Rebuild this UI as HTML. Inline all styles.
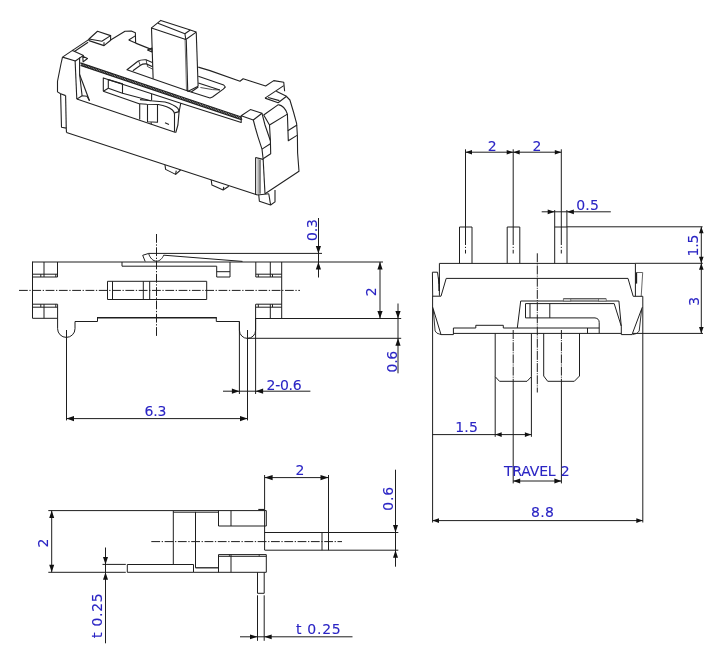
<!DOCTYPE html>
<html><head><meta charset="utf-8"><title>Slide switch drawing</title>
<style>
html,body{margin:0;padding:0;background:#fff;}
svg{display:block;}
text{font-family:"DejaVu Sans","Liberation Sans",sans-serif;}
</style></head><body>
<svg width="721" height="672" viewBox="0 0 721 672">
<rect width="721" height="672" fill="#ffffff"/>
<g opacity="0.999">
<line x1="32.5" y1="262" x2="383" y2="262" stroke="#1e1e1e" stroke-width="1.0"/>
<line x1="32.5" y1="261.5" x2="32.5" y2="318.3" stroke="#1e1e1e" stroke-width="1.0"/>
<line x1="57.5" y1="262" x2="57.5" y2="277" stroke="#1e1e1e" stroke-width="1.0"/>
<line x1="32.5" y1="277" x2="57.5" y2="277" stroke="#1e1e1e" stroke-width="1.0"/>
<line x1="32.5" y1="274.2" x2="57.5" y2="274.2" stroke="#1e1e1e" stroke-width="1.0"/>
<line x1="44" y1="262" x2="44" y2="277" stroke="#1e1e1e" stroke-width="1.0"/>
<line x1="40.8" y1="274.2" x2="40.8" y2="277" stroke="#1e1e1e" stroke-width="1.0"/>
<line x1="55.8" y1="274.2" x2="55.8" y2="277" stroke="#1e1e1e" stroke-width="1.0"/>
<line x1="32.5" y1="304.2" x2="57.5" y2="304.2" stroke="#1e1e1e" stroke-width="1.0"/>
<line x1="32.5" y1="307.2" x2="57.5" y2="307.2" stroke="#1e1e1e" stroke-width="1.0"/>
<line x1="32.5" y1="318.3" x2="57.5" y2="318.3" stroke="#1e1e1e" stroke-width="1.0"/>
<line x1="44" y1="304.2" x2="44" y2="318.3" stroke="#1e1e1e" stroke-width="1.0"/>
<line x1="40.8" y1="304.2" x2="40.8" y2="307.2" stroke="#1e1e1e" stroke-width="1.0"/>
<line x1="55.8" y1="304.2" x2="55.8" y2="307.2" stroke="#1e1e1e" stroke-width="1.0"/>
<path d="M57.6,304.2 L57.6,328.7 A8.7,8.7 0 0 0 75,328.7 L75,321.5 L97.5,321.5 L97.5,317.6" fill="none" stroke="#1e1e1e" stroke-width="1.0"/>
<line x1="97" y1="317.7" x2="216.8" y2="317.7" stroke="#1e1e1e" stroke-width="1.4"/>
<path d="M216.3,317.5 L216.3,321.5 L239.4,321.5 L239.4,330.3 A8,8 0 0 0 255.6,330.3 L255.6,304.2" fill="none" stroke="#1e1e1e" stroke-width="1.0"/>
<line x1="239.4" y1="321.5" x2="239.4" y2="394" stroke="#1e1e1e" stroke-width="1.0"/>
<line x1="255.6" y1="318" x2="255.6" y2="394" stroke="#1e1e1e" stroke-width="1.0"/>
<line x1="255.8" y1="262" x2="255.8" y2="277" stroke="#1e1e1e" stroke-width="1.0"/>
<line x1="255.8" y1="277" x2="281.7" y2="277" stroke="#1e1e1e" stroke-width="1.0"/>
<line x1="255.8" y1="274.2" x2="281.7" y2="274.2" stroke="#1e1e1e" stroke-width="1.0"/>
<line x1="270.3" y1="262" x2="270.3" y2="277" stroke="#1e1e1e" stroke-width="1.0"/>
<line x1="258.3" y1="274.2" x2="258.3" y2="277" stroke="#1e1e1e" stroke-width="1.0"/>
<line x1="272.5" y1="274.2" x2="272.5" y2="277" stroke="#1e1e1e" stroke-width="1.0"/>
<line x1="281.7" y1="262" x2="281.7" y2="318.3" stroke="#1e1e1e" stroke-width="1.0"/>
<line x1="255.8" y1="304.2" x2="281.7" y2="304.2" stroke="#1e1e1e" stroke-width="1.0"/>
<line x1="255.8" y1="307.2" x2="281.7" y2="307.2" stroke="#1e1e1e" stroke-width="1.0"/>
<line x1="270.3" y1="304.2" x2="270.3" y2="318.3" stroke="#1e1e1e" stroke-width="1.0"/>
<line x1="258.3" y1="304.2" x2="258.3" y2="307.2" stroke="#1e1e1e" stroke-width="1.0"/>
<line x1="272.5" y1="304.2" x2="272.5" y2="307.2" stroke="#1e1e1e" stroke-width="1.0"/>
<line x1="255.8" y1="318.5" x2="401.2" y2="318.5" stroke="#1e1e1e" stroke-width="1.0"/>
<polyline points="122,262 122,266.2 216.7,266.2 216.7,277 230,277 230,262" fill="none" stroke="#1e1e1e" stroke-width="1.0" stroke-linejoin="round"/>
<line x1="216.7" y1="271.7" x2="230" y2="271.7" stroke="#1e1e1e" stroke-width="1.0"/>
<polygon points="107.5,281.3 206.7,281.3 206.7,299.5 107.5,299.5" fill="none" stroke="#1e1e1e" stroke-width="1.0" stroke-linejoin="round"/>
<line x1="112.5" y1="281.3" x2="112.5" y2="299.5" stroke="#1e1e1e" stroke-width="1.0"/>
<line x1="143.3" y1="281.3" x2="143.3" y2="299.5" stroke="#1e1e1e" stroke-width="1.0"/>
<line x1="149.7" y1="281.3" x2="149.7" y2="299.5" stroke="#1e1e1e" stroke-width="1.0"/>
<line x1="19" y1="290.4" x2="300" y2="290.4" stroke="#1e1e1e" stroke-width="1.0" stroke-dasharray="8.8 1.6 1.3 1.6"/>
<line x1="156.5" y1="234" x2="156.5" y2="337.5" stroke="#1e1e1e" stroke-width="1.0" stroke-dasharray="8.8 1.6 1.3 1.6"/>
<line x1="148.4" y1="253.4" x2="322" y2="253.4" stroke="#1e1e1e" stroke-width="1.0"/>
<polyline points="148.4,253.5 142.7,255.3 145.2,261.5" fill="none" stroke="#1e1e1e" stroke-width="1.0" stroke-linejoin="round"/>
<path d="M148.6,253.5 C150,258 153,261.2 156.5,261.2 C159.6,261.2 162.3,258.6 163.7,255.2" fill="none" stroke="#1e1e1e" stroke-width="1.0"/>
<line x1="163.7" y1="255.2" x2="242.5" y2="261.4" stroke="#1e1e1e" stroke-width="1.0"/>
<line x1="318.5" y1="218" x2="318.5" y2="277.5" stroke="#1e1e1e" stroke-width="1.0"/>
<polygon points="318.4,253.5 315.79999999999995,246.0 321.0,246.0" fill="#111" stroke="none"/>
<polygon points="318.4,262 315.79999999999995,269.5 321.0,269.5" fill="#111" stroke="none"/>
<text x="317.2" y="241" font-size="14" fill="#2a24c4" stroke="#2a24c4" stroke-width="0.12" text-anchor="start" textLength="21.9" lengthAdjust="spacing" transform="rotate(-90 317.2 241)" xml:space="preserve">0.3</text>
<line x1="380" y1="262" x2="380" y2="318.5" stroke="#1e1e1e" stroke-width="1.0"/>
<polygon points="380,262 377.4,269.5 382.6,269.5" fill="#111" stroke="none"/>
<polygon points="380,318.5 377.4,311.0 382.6,311.0" fill="#111" stroke="none"/>
<text x="375.8" y="296.3" font-size="14" fill="#2a24c4" stroke="#2a24c4" stroke-width="0.12" text-anchor="start" transform="rotate(-90 375.8 296.3)" xml:space="preserve">2</text>
<line x1="398" y1="303.5" x2="398" y2="373.3" stroke="#1e1e1e" stroke-width="1.0"/>
<polygon points="398,318.5 395.4,311.0 400.6,311.0" fill="#111" stroke="none"/>
<polygon points="398,338.3 395.4,345.8 400.6,345.8" fill="#111" stroke="none"/>
<line x1="247.5" y1="338.3" x2="401.2" y2="338.3" stroke="#1e1e1e" stroke-width="1.0"/>
<text x="396.6" y="372.5" font-size="14" fill="#2a24c4" stroke="#2a24c4" stroke-width="0.12" text-anchor="start" textLength="21.8" lengthAdjust="spacing" transform="rotate(-90 396.6 372.5)" xml:space="preserve">0.6</text>
<line x1="223" y1="391.2" x2="310.4" y2="391.2" stroke="#1e1e1e" stroke-width="1.0"/>
<polygon points="239.4,391.2 231.9,388.59999999999997 231.9,393.8" fill="#111" stroke="none"/>
<polygon points="255.6,391.2 263.1,388.59999999999997 263.1,393.8" fill="#111" stroke="none"/>
<text x="266.6" y="389.9" font-size="14" fill="#2a24c4" stroke="#2a24c4" stroke-width="0.12" text-anchor="start" textLength="35.1" lengthAdjust="spacing" xml:space="preserve">2-0.6</text>
<line x1="66.5" y1="330" x2="66.5" y2="420.4" stroke="#1e1e1e" stroke-width="1.0"/>
<line x1="247.5" y1="330" x2="247.5" y2="420.4" stroke="#1e1e1e" stroke-width="1.0"/>
<line x1="66.5" y1="418.6" x2="247.5" y2="418.6" stroke="#1e1e1e" stroke-width="1.0"/>
<polygon points="66.5,418.6 74.0,416.0 74.0,421.20000000000005" fill="#111" stroke="none"/>
<polygon points="247.5,418.6 240.0,416.0 240.0,421.20000000000005" fill="#111" stroke="none"/>
<text x="144.5" y="416" font-size="14" fill="#2a24c4" stroke="#2a24c4" stroke-width="0.12" text-anchor="start" textLength="21.9" lengthAdjust="spacing" xml:space="preserve">6.3</text>
<polyline points="459.5,263.3 459.5,227 472,227 472,263.3" fill="none" stroke="#1e1e1e" stroke-width="1.0" stroke-linejoin="round"/>
<line x1="465.5" y1="149.3" x2="465.5" y2="245" stroke="#1e1e1e" stroke-width="1.0"/>
<line x1="465.5" y1="246.8" x2="465.5" y2="248" stroke="#1e1e1e" stroke-width="1.0"/>
<line x1="465.5" y1="249.8" x2="465.5" y2="253.5" stroke="#1e1e1e" stroke-width="1.0"/>
<polyline points="507.2,263.3 507.2,227 519.8,227 519.8,263.3" fill="none" stroke="#1e1e1e" stroke-width="1.0" stroke-linejoin="round"/>
<line x1="513.2" y1="149.3" x2="513.2" y2="245" stroke="#1e1e1e" stroke-width="1.0"/>
<line x1="513.2" y1="246.8" x2="513.2" y2="248" stroke="#1e1e1e" stroke-width="1.0"/>
<line x1="513.2" y1="249.8" x2="513.2" y2="253.5" stroke="#1e1e1e" stroke-width="1.0"/>
<polyline points="554.7,263.3 554.7,227 567,227 567,263.3" fill="none" stroke="#1e1e1e" stroke-width="1.0" stroke-linejoin="round"/>
<line x1="561.3" y1="149.3" x2="561.3" y2="245" stroke="#1e1e1e" stroke-width="1.0"/>
<line x1="561.3" y1="246.8" x2="561.3" y2="248" stroke="#1e1e1e" stroke-width="1.0"/>
<line x1="561.3" y1="249.8" x2="561.3" y2="253.5" stroke="#1e1e1e" stroke-width="1.0"/>
<line x1="465.5" y1="152.2" x2="561.3" y2="152.2" stroke="#1e1e1e" stroke-width="1.0"/>
<polygon points="465.5,152.2 472.0,149.89999999999998 472.0,154.5" fill="#111" stroke="none"/>
<polygon points="513.2,152.2 506.70000000000005,149.89999999999998 506.70000000000005,154.5" fill="#111" stroke="none"/>
<polygon points="513.2,152.2 519.7,149.89999999999998 519.7,154.5" fill="#111" stroke="none"/>
<polygon points="561.3,152.2 554.8,149.89999999999998 554.8,154.5" fill="#111" stroke="none"/>
<text x="487.8" y="151" font-size="14" fill="#2a24c4" stroke="#2a24c4" stroke-width="0.12" text-anchor="start" xml:space="preserve">2</text>
<text x="532.6" y="151.2" font-size="14" fill="#2a24c4" stroke="#2a24c4" stroke-width="0.12" text-anchor="start" xml:space="preserve">2</text>
<line x1="541.7" y1="211.8" x2="610.8" y2="211.8" stroke="#1e1e1e" stroke-width="1.0"/>
<line x1="554.7" y1="210" x2="554.7" y2="227" stroke="#1e1e1e" stroke-width="1.0"/>
<line x1="566.9" y1="210" x2="566.9" y2="227" stroke="#1e1e1e" stroke-width="1.0"/>
<polygon points="554.7,211.8 547.7,209.4 547.7,214.20000000000002" fill="#111" stroke="none"/>
<polygon points="566.9,211.8 573.9,209.4 573.9,214.20000000000002" fill="#111" stroke="none"/>
<text x="576.2" y="209.7" font-size="14" fill="#2a24c4" stroke="#2a24c4" stroke-width="0.12" text-anchor="start" textLength="22.8" lengthAdjust="spacing" xml:space="preserve">0.5</text>
<line x1="567" y1="226.8" x2="702.6" y2="226.8" stroke="#1e1e1e" stroke-width="1.0"/>
<line x1="635.3" y1="263.3" x2="702.8" y2="263.3" stroke="#1e1e1e" stroke-width="1.0"/>
<line x1="633" y1="333.4" x2="703" y2="333.4" stroke="#1e1e1e" stroke-width="1.0"/>
<line x1="701.3" y1="226.8" x2="701.3" y2="333.4" stroke="#1e1e1e" stroke-width="1.0"/>
<polygon points="701.3,226.8 699.0,233.3 703.5999999999999,233.3" fill="#111" stroke="none"/>
<polygon points="701.3,263.3 699.0,256.8 703.5999999999999,256.8" fill="#111" stroke="none"/>
<polygon points="701.3,263.3 699.0,269.8 703.5999999999999,269.8" fill="#111" stroke="none"/>
<polygon points="701.3,333.4 699.0,326.9 703.5999999999999,326.9" fill="#111" stroke="none"/>
<text x="697.6" y="256.5" font-size="14" fill="#2a24c4" stroke="#2a24c4" stroke-width="0.12" text-anchor="start" textLength="21.9" lengthAdjust="spacing" transform="rotate(-90 697.6 256.5)" xml:space="preserve">1.5</text>
<text x="698.9" y="305.8" font-size="14" fill="#2a24c4" stroke="#2a24c4" stroke-width="0.12" text-anchor="start" transform="rotate(-90 698.9 305.8)" xml:space="preserve">3</text>
<polyline points="439.4,295.8 439.4,263.4 635.4,263.4 635.4,296.3" fill="none" stroke="#1e1e1e" stroke-width="1.0" stroke-linejoin="round"/>
<polyline points="437.5,272.2 432.4,272.2 432.7,296.2 441,296.2" fill="none" stroke="#1e1e1e" stroke-width="1.0" stroke-linejoin="round"/>
<line x1="437.5" y1="272.2" x2="439.1" y2="284" stroke="#1e1e1e" stroke-width="1.0"/>
<line x1="439.0" y1="277.5" x2="439.2" y2="291" stroke="#1e1e1e" stroke-width="1.6"/>
<polyline points="636.4,272.5 642.7,272.5 641.2,296.3" fill="none" stroke="#555" stroke-width="0.9" stroke-linejoin="round"/>
<line x1="633.2" y1="296.3" x2="642.8" y2="296.3" stroke="#1e1e1e" stroke-width="1.0"/>
<line x1="636.3" y1="272.5" x2="636.3" y2="283.6" stroke="#1e1e1e" stroke-width="1.7"/>
<polyline points="441,296.2 446.2,278.4 628,278.4 633.2,296.3" fill="none" stroke="#1e1e1e" stroke-width="1.0" stroke-linejoin="round"/>
<line x1="432.6" y1="296" x2="432.6" y2="522.5" stroke="#1e1e1e" stroke-width="1.0"/>
<line x1="642.8" y1="296.3" x2="642.8" y2="522.5" stroke="#1e1e1e" stroke-width="1.0"/>
<polyline points="432.7,307.2 441,334.6 453.4,334.6 453.4,328 475.8,328 475.8,325.3 503.3,325.3 503.3,328 599.2,328" fill="none" stroke="#1e1e1e" stroke-width="1.0" stroke-linejoin="round"/>
<polyline points="433.3,309.6 435.1,331 437,333.2 441,334.6" fill="none" stroke="#1e1e1e" stroke-width="0.9" stroke-linejoin="round"/>
<line x1="453.4" y1="333.4" x2="621.3" y2="333.4" stroke="#1e1e1e" stroke-width="1.0"/>
<polyline points="618.9,301 621.3,326.3 621.3,334.6 632,334.6 642.3,307.2" fill="none" stroke="#1e1e1e" stroke-width="1.0" stroke-linejoin="round"/>
<polyline points="641.6,309.6 639.2,331 636.8,333.4 632.5,334.6" fill="none" stroke="#1e1e1e" stroke-width="0.9" stroke-linejoin="round"/>
<polyline points="517.3,328 520.7,301 618.9,301" fill="none" stroke="#1e1e1e" stroke-width="1.0" stroke-linejoin="round"/>
<polyline points="525.5,303.6 614.2,303.6 621.3,326.3" fill="none" stroke="#1e1e1e" stroke-width="1.0" stroke-linejoin="round"/>
<polyline points="525.5,303.6 525.5,317.9 595,317.9" fill="none" stroke="#1e1e1e" stroke-width="1.0" stroke-linejoin="round"/>
<path d="M595,317.9 Q599.2,318.5 599.2,322.5 L599.2,333.4" fill="none" stroke="#1e1e1e" stroke-width="1.0"/>
<line x1="530" y1="303.6" x2="530" y2="317.9" stroke="#1e1e1e" stroke-width="1.0"/>
<line x1="549.8" y1="303.6" x2="549.8" y2="317.9" stroke="#1e1e1e" stroke-width="1.0"/>
<line x1="587.5" y1="328" x2="587.5" y2="333.4" stroke="#1e1e1e" stroke-width="1.0"/>
<line x1="563.6" y1="298.8" x2="606" y2="298.8" stroke="#1e1e1e" stroke-width="1.0"/>
<rect x="563.3" y="298.8" width="7.5" height="2.3" fill="#dcdcdc" stroke="#555" stroke-width="0.7"/>
<rect x="598.5" y="298.8" width="7.7" height="2.3" fill="#dcdcdc" stroke="#555" stroke-width="0.7"/>
<polyline points="495.2,333.4 495.2,376.7 499.5,381.3 527,381.3 531.4,376.7 531.4,333.4" fill="none" stroke="#1e1e1e" stroke-width="1.0" stroke-linejoin="round"/>
<polyline points="543.7,333.4 543.7,376 547.7,381.3 574.3,381.3 579.5,376 579.5,333.4" fill="none" stroke="#1e1e1e" stroke-width="1.0" stroke-linejoin="round"/>
<line x1="495.2" y1="376.7" x2="495.2" y2="436.8" stroke="#1e1e1e" stroke-width="1.0"/>
<line x1="531.4" y1="376.7" x2="531.4" y2="436.8" stroke="#1e1e1e" stroke-width="1.0"/>
<line x1="513.2" y1="330" x2="513.2" y2="386" stroke="#1e1e1e" stroke-width="1.0" stroke-dasharray="9 1.1 1 1.1"/>
<line x1="513.2" y1="386" x2="513.2" y2="483.4" stroke="#1e1e1e" stroke-width="1.0"/>
<line x1="561.4" y1="330" x2="561.4" y2="386" stroke="#1e1e1e" stroke-width="1.0" stroke-dasharray="9 1.1 1 1.1"/>
<line x1="561.4" y1="386" x2="561.4" y2="483.4" stroke="#1e1e1e" stroke-width="1.0"/>
<line x1="537.3" y1="253.3" x2="537.3" y2="392.5" stroke="#1e1e1e" stroke-width="1.0" stroke-dasharray="9 1.1 1 1.1"/>
<line x1="432.5" y1="434.6" x2="531.4" y2="434.6" stroke="#1e1e1e" stroke-width="1.0"/>
<polygon points="495.2,434.6 501.7,432.3 501.7,436.90000000000003" fill="#111" stroke="none"/>
<polygon points="531.4,434.6 524.9,432.3 524.9,436.90000000000003" fill="#111" stroke="none"/>
<text x="455.3" y="432" font-size="14" fill="#2a24c4" stroke="#2a24c4" stroke-width="0.12" text-anchor="start" textLength="22.5" lengthAdjust="spacing" xml:space="preserve">1.5</text>
<line x1="513.2" y1="481" x2="561.4" y2="481" stroke="#1e1e1e" stroke-width="1.0"/>
<polygon points="513.2,481 520.2,478.6 520.2,483.4" fill="#111" stroke="none"/>
<polygon points="561.4,481 554.4,478.6 554.4,483.4" fill="#111" stroke="none"/>
<text x="504" y="475.7" font-size="14" fill="#2a24c4" stroke="#2a24c4" stroke-width="0.12" xml:space="preserve"><tspan textLength="51.6" lengthAdjust="spacing">TRAVEL</tspan> <tspan x="560.7">2</tspan></text>
<line x1="432.5" y1="520.6" x2="642.8" y2="520.6" stroke="#1e1e1e" stroke-width="1.0"/>
<polygon points="432.5,520.6 439.0,518.3000000000001 439.0,522.9" fill="#111" stroke="none"/>
<polygon points="642.8,520.6 636.3,518.3000000000001 636.3,522.9" fill="#111" stroke="none"/>
<text x="531" y="516.6" font-size="14" fill="#2a24c4" stroke="#2a24c4" stroke-width="0.12" text-anchor="start" textLength="22.8" lengthAdjust="spacing" xml:space="preserve">8.8</text>
<line x1="48.3" y1="510.6" x2="266.3" y2="510.6" stroke="#1e1e1e" stroke-width="1.0"/>
<line x1="173.3" y1="512.2" x2="218.5" y2="512.2" stroke="#1e1e1e" stroke-width="1.0"/>
<line x1="173.3" y1="511" x2="173.3" y2="564.4" stroke="#1e1e1e" stroke-width="1.0"/>
<line x1="195.5" y1="511.9" x2="195.5" y2="567.8" stroke="#1e1e1e" stroke-width="1.0"/>
<line x1="195.5" y1="567.8" x2="218.5" y2="567.8" stroke="#1e1e1e" stroke-width="1.3"/>
<polygon points="127.3,564.5 193.5,564.5 193.5,572.3 127.3,572.3" fill="none" stroke="#1e1e1e" stroke-width="1.0" stroke-linejoin="round"/>
<line x1="48.3" y1="572.3" x2="125.8" y2="572.3" stroke="#1e1e1e" stroke-width="1.0"/>
<line x1="193.5" y1="572.3" x2="266.3" y2="572.3" stroke="#1e1e1e" stroke-width="1.0"/>
<line x1="102.5" y1="564.4" x2="125.8" y2="564.4" stroke="#1e1e1e" stroke-width="1.0"/>
<line x1="51.7" y1="510.6" x2="51.7" y2="572.2" stroke="#1e1e1e" stroke-width="1.0"/>
<polygon points="51.7,510.6 49.2,518.1 54.2,518.1" fill="#111" stroke="none"/>
<polygon points="51.7,572.2 49.2,564.7 54.2,564.7" fill="#111" stroke="none"/>
<text x="48.2" y="547.6" font-size="14" fill="#2a24c4" stroke="#2a24c4" stroke-width="0.12" text-anchor="start" transform="rotate(-90 48.2 547.6)" xml:space="preserve">2</text>
<line x1="105.5" y1="547.5" x2="105.5" y2="643.3" stroke="#1e1e1e" stroke-width="1.0"/>
<polygon points="105.5,564.4 103.0,556.9 108.0,556.9" fill="#111" stroke="none"/>
<polygon points="105.5,572.2 103.0,579.7 108.0,579.7" fill="#111" stroke="none"/>
<text x="102" y="638" font-size="14" fill="#2a24c4" stroke="#2a24c4" stroke-width="0.12" text-anchor="start" textLength="44.8" lengthAdjust="spacing" transform="rotate(-90 102 638)" xml:space="preserve">t 0.25</text>
<polyline points="218.5,510.6 218.5,526 266.3,526 266.3,510.6" fill="none" stroke="#1e1e1e" stroke-width="1.0" stroke-linejoin="round"/>
<line x1="231" y1="510.6" x2="231" y2="526" stroke="#1e1e1e" stroke-width="1.0"/>
<line x1="264.6" y1="475" x2="264.6" y2="550" stroke="#1e1e1e" stroke-width="1.0"/>
<line x1="258.3" y1="509.6" x2="264.2" y2="509.6" stroke="#1e1e1e" stroke-width="1.4"/>
<polyline points="218.5,572.3 218.5,554.6 266.3,554.6 266.3,572.3" fill="none" stroke="#1e1e1e" stroke-width="1.0" stroke-linejoin="round"/>
<line x1="218.5" y1="556.3" x2="266.3" y2="556.3" stroke="#1e1e1e" stroke-width="1.0"/>
<line x1="231" y1="554.6" x2="231" y2="572.3" stroke="#1e1e1e" stroke-width="1.0"/>
<line x1="229.4" y1="554.6" x2="229.4" y2="556.3" stroke="#1e1e1e" stroke-width="0.8"/>
<line x1="259.2" y1="554.6" x2="259.2" y2="556.3" stroke="#1e1e1e" stroke-width="0.8"/>
<line x1="264.6" y1="532.5" x2="398.3" y2="532.5" stroke="#1e1e1e" stroke-width="1.0"/>
<line x1="264.6" y1="550.2" x2="398.3" y2="550.2" stroke="#1e1e1e" stroke-width="1.0"/>
<line x1="322" y1="532.5" x2="322" y2="550.2" stroke="#1e1e1e" stroke-width="1.0"/>
<line x1="328.5" y1="475" x2="328.5" y2="550.2" stroke="#1e1e1e" stroke-width="1.0"/>
<line x1="151.3" y1="541.6" x2="342" y2="541.6" stroke="#1e1e1e" stroke-width="1.0" stroke-dasharray="8.8 1.6 1.3 1.6"/>
<line x1="264.6" y1="477.6" x2="328.5" y2="477.6" stroke="#1e1e1e" stroke-width="1.0"/>
<polygon points="264.6,477.6 272.6,475.0 272.6,480.20000000000005" fill="#111" stroke="none"/>
<polygon points="328.5,477.6 320.5,475.0 320.5,480.20000000000005" fill="#111" stroke="none"/>
<text x="295.5" y="475.3" font-size="14" fill="#2a24c4" stroke="#2a24c4" stroke-width="0.12" text-anchor="start" xml:space="preserve">2</text>
<line x1="395.5" y1="469.7" x2="395.5" y2="566.7" stroke="#1e1e1e" stroke-width="1.0"/>
<polygon points="395.5,532.5 393.0,525.0 398.0,525.0" fill="#111" stroke="none"/>
<polygon points="395.5,550.2 393.0,557.7 398.0,557.7" fill="#111" stroke="none"/>
<text x="393.2" y="510.8" font-size="14" fill="#2a24c4" stroke="#2a24c4" stroke-width="0.12" text-anchor="start" textLength="24" lengthAdjust="spacing" transform="rotate(-90 393.2 510.8)" xml:space="preserve">0.6</text>
<polyline points="257.5,572.3 257.5,593.3 264.2,593.3 264.2,572.3" fill="none" stroke="#1e1e1e" stroke-width="1.0" stroke-linejoin="round"/>
<line x1="257.5" y1="595.3" x2="257.5" y2="640.8" stroke="#1e1e1e" stroke-width="1.0"/>
<line x1="264.2" y1="595.3" x2="264.2" y2="640.8" stroke="#1e1e1e" stroke-width="1.0"/>
<line x1="240" y1="636.8" x2="352.5" y2="636.8" stroke="#1e1e1e" stroke-width="1.0"/>
<polygon points="257.5,636.8 250.0,634.4 250.0,639.1999999999999" fill="#111" stroke="none"/>
<polygon points="264.2,636.8 271.7,634.4 271.7,639.1999999999999" fill="#111" stroke="none"/>
<text x="296" y="634.1" font-size="14" fill="#2a24c4" stroke="#2a24c4" stroke-width="0.12" text-anchor="start" textLength="44.7" lengthAdjust="spacing" xml:space="preserve">t 0.25</text>
<polygon points="62.5,57.12 72.5,50.38 83.5,55.38 75.38,61.0" fill="none" stroke="#222" stroke-width="1.1" stroke-linejoin="round"/>
<polyline points="62.5,57.12 61.0,63.75 58.75,75.0 57.5,81.25 57.5,91.88 60.62,93.75" fill="none" stroke="#222" stroke-width="1.1" stroke-linejoin="round"/>
<polyline points="60.62,93.75 65.62,95.62" fill="none" stroke="#222" stroke-width="1.1" stroke-linejoin="round"/>
<polygon points="82.75,56.25 87.5,58.5 83.12,61.88" fill="none" stroke="#222" stroke-width="1.1" stroke-linejoin="round"/>
<polyline points="72.5,50.38 89.0,39.38" fill="none" stroke="#222" stroke-width="1.1" stroke-linejoin="round"/>
<polyline points="74.38,51.5 88.12,42.25" fill="none" stroke="#222" stroke-width="1.1" stroke-linejoin="round"/>
<polygon points="89.0,39.0 97.5,31.25 110.62,35.62 101.88,41.25" fill="none" stroke="#222" stroke-width="1.1" stroke-linejoin="round"/>
<polyline points="89.0,39.0 89.0,40.62 104.0,45.62 110.62,40.25 110.62,35.62" fill="none" stroke="#222" stroke-width="1.1" stroke-linejoin="round"/>
<polyline points="104.0,42.25 104.0,45.62" fill="none" stroke="#222" stroke-width="1.1" stroke-linejoin="round"/>
<polyline points="110.62,40.0 125.0,31.25 131.25,31.0 135.38,32.75 135.62,43.12" fill="none" stroke="#222" stroke-width="1.1" stroke-linejoin="round"/>
<polyline points="128.75,40.0 135.62,35.62" fill="none" stroke="#222" stroke-width="1.1" stroke-linejoin="round"/>
<polyline points="128.75,40.0 135.62,43.12" fill="none" stroke="#222" stroke-width="1.1" stroke-linejoin="round"/>
<polyline points="75.1,60.6 76.8,99.1" fill="none" stroke="#222" stroke-width="1.1" stroke-linejoin="round"/>
<polyline points="79.6,57.5 79.6,74.5 82.1,95.8" fill="none" stroke="#222" stroke-width="1.1" stroke-linejoin="round"/>
<polyline points="79.6,74.5 89.5,100.7" fill="none" stroke="#222" stroke-width="1.1" stroke-linejoin="round"/>
<polyline points="76.8,99.1 82.1,95.8 87,96.2 89.5,100.7" fill="none" stroke="#222" stroke-width="1.1" stroke-linejoin="round"/>
<polyline points="135.62,43.12 151.25,49.38" fill="none" stroke="#222" stroke-width="1.1" stroke-linejoin="round"/>
<polygon points="147.5,50.0 151.88,48.12 151.88,51.88" fill="none" stroke="#222" stroke-width="1.1" stroke-linejoin="round"/>
<polygon points="151.5,27.9 160.8,20.4 190.3,30 196.2,32.1 185.8,39.5" fill="none" stroke="#222" stroke-width="1.1" stroke-linejoin="round"/>
<polyline points="157.9,23.3 184.9,33.7 185.8,39.5" fill="none" stroke="#222" stroke-width="1.1" stroke-linejoin="round"/>
<polyline points="184.9,33.7 190.3,30" fill="none" stroke="#222" stroke-width="1.1" stroke-linejoin="round"/>
<polyline points="151.5,27.75 153.12,78.75" fill="none" stroke="#222" stroke-width="1.1" stroke-linejoin="round"/>
<polyline points="186.25,39.75 187.75,91.5" fill="none" stroke="#222" stroke-width="1.1" stroke-linejoin="round"/>
<polyline points="196.25,32.5 198.12,86.25" fill="none" stroke="#222" stroke-width="1.1" stroke-linejoin="round"/>
<polyline points="187.75,91.5 198.12,86.25" fill="none" stroke="#222" stroke-width="1.1" stroke-linejoin="round"/>
<polyline points="185.0,38.75 186.5,90.0" fill="none" stroke="#222" stroke-width="0.6" stroke-linejoin="round"/>
<polyline points="60.62,93.75 61.5,127.25 66.25,128.12 66.5,132.5" fill="none" stroke="#222" stroke-width="1.1" stroke-linejoin="round"/>
<polyline points="65.62,95.62 66.25,128.12" fill="none" stroke="#222" stroke-width="1.1" stroke-linejoin="round"/>
<polyline points="66.5,132.5 257.5,195" fill="none" stroke="#222" stroke-width="1.1" stroke-linejoin="round"/>
<polyline points="76.8,99.1 175.7,132.6" fill="none" stroke="#222" stroke-width="1.1" stroke-linejoin="round"/>
<polyline points="165.0,165.0 165.62,169.38 175.62,174.38 180.62,170.0" fill="none" stroke="#222" stroke-width="1.1" stroke-linejoin="round"/>
<polyline points="175.62,174.38 176.25,170.62" fill="none" stroke="#222" stroke-width="1.1" stroke-linejoin="round"/>
<polyline points="211.25,180.0 211.88,185.0 223.12,190.0 228.75,186.25" fill="none" stroke="#222" stroke-width="1.1" stroke-linejoin="round"/>
<polyline points="223.12,190.0 223.75,186.88" fill="none" stroke="#222" stroke-width="1.1" stroke-linejoin="round"/>
<polyline points="255.62,157.5 255.62,195.0" fill="none" stroke="#222" stroke-width="1.1" stroke-linejoin="round"/>
<polyline points="258.12,158.12 258.12,195.0" fill="none" stroke="#222" stroke-width="0.6" stroke-linejoin="round"/>
<polyline points="260.0,159.38 260.0,193.75" fill="none" stroke="#222" stroke-width="1.1" stroke-linejoin="round"/>
<polyline points="255.62,157.5 263.12,159.38" fill="none" stroke="#222" stroke-width="1.1" stroke-linejoin="round"/>
<polyline points="263.12,158.75 265.0,193.75" fill="none" stroke="#222" stroke-width="1.1" stroke-linejoin="round"/>
<polyline points="258.75,195.0 259.38,201.25 270.62,205.0 275.0,201.88 275.0,190.0" fill="none" stroke="#222" stroke-width="1.1" stroke-linejoin="round"/>
<polyline points="268.75,193.75 270.62,205.0" fill="none" stroke="#222" stroke-width="1.1" stroke-linejoin="round"/>
<polyline points="257.5,195.0 268.75,193.75" fill="none" stroke="#222" stroke-width="1.1" stroke-linejoin="round"/>
<polyline points="198.25,67.12 210.0,70.62 240.0,81.25 243.12,78.75 265.62,86.0 273.75,80.62 283.75,82.25 284.62,91.25" fill="none" stroke="#222" stroke-width="1.1" stroke-linejoin="round"/>
<polyline points="265.0,98.12 283.75,85.62" fill="none" stroke="#222" stroke-width="1.1" stroke-linejoin="round"/>
<polyline points="265.0,98.12 278.12,102.75 286.25,96.5" fill="none" stroke="#222" stroke-width="1.1" stroke-linejoin="round"/>
<polyline points="268.12,97.5 279.38,100.62" fill="none" stroke="#222" stroke-width="1.1" stroke-linejoin="round"/>
<polyline points="276.25,91.25 286.5,96.25" fill="none" stroke="#222" stroke-width="1.1" stroke-linejoin="round"/>
<polygon points="241.2,115.8 250.4,109.6 262,113.3 253.3,120" fill="none" stroke="#222" stroke-width="1.1" stroke-linejoin="round"/>
<polyline points="241.2,115.8 241.2,122.8" fill="none" stroke="#222" stroke-width="1.1" stroke-linejoin="round"/>
<polyline points="253.3,120 255.4,128 257.9,136.6 262,149.1 263.1,158.75" fill="none" stroke="#222" stroke-width="1.1" stroke-linejoin="round"/>
<polyline points="262,113.3 265,125 270.4,140.8 270.7,153.75 263.1,158.75" fill="none" stroke="#222" stroke-width="1.1" stroke-linejoin="round"/>
<polyline points="262,149.1 270.4,143.7" fill="none" stroke="#222" stroke-width="1.1" stroke-linejoin="round"/>
<polyline points="278.3,104.6 263.7,115 269.5,125 270.4,140.8" fill="none" stroke="#222" stroke-width="1.1" stroke-linejoin="round"/>
<polyline points="269.5,125 287.4,114.1" fill="none" stroke="#222" stroke-width="1.1" stroke-linejoin="round"/>
<path d="M278.3,104.6 Q284.5,105.5 287.4,114.1" fill="none" stroke="#222" stroke-width="1.1"/>
<polyline points="287.4,114.1 288.3,140.8 297,135.4" fill="none" stroke="#222" stroke-width="1.1" stroke-linejoin="round"/>
<polyline points="287.8,130.8 297,125" fill="none" stroke="#222" stroke-width="1.1" stroke-linejoin="round"/>
<polyline points="286.25,96.25 289.9,100 293.5,112 296.6,123.3 297.4,135.8 297.6,153 299,171.2 265,193.75" fill="none" stroke="#222" stroke-width="1.1" stroke-linejoin="round"/>
<polyline points="80.3,62.8 241.3,117.0" fill="none" stroke="#222" stroke-width="1.25" stroke-linejoin="round"/>
<polyline points="80.6,65.39999999999999 241.3,119.6" fill="none" stroke="#222" stroke-width="1.25" stroke-linejoin="round"/>
<polyline points="81.07903225806452,63.362258064516126 83.67903225806451,66.26225806451612" fill="none" stroke="#222" stroke-width="1.1" stroke-linejoin="round"/>
<polyline points="83.6758064516129,64.23645161290322 86.2758064516129,67.13645161290322" fill="none" stroke="#222" stroke-width="1.1" stroke-linejoin="round"/>
<polyline points="86.27258064516128,65.11064516129032 88.87258064516128,68.01064516129031" fill="none" stroke="#222" stroke-width="1.1" stroke-linejoin="round"/>
<polyline points="88.86935483870967,65.98483870967742 91.46935483870966,68.88483870967741" fill="none" stroke="#222" stroke-width="1.1" stroke-linejoin="round"/>
<polyline points="91.46612903225807,66.85903225806452 94.06612903225806,69.75903225806451" fill="none" stroke="#222" stroke-width="1.1" stroke-linejoin="round"/>
<polyline points="94.06290322580645,67.73322580645161 96.66290322580645,70.6332258064516" fill="none" stroke="#222" stroke-width="1.1" stroke-linejoin="round"/>
<polyline points="96.65967741935484,68.60741935483871 99.25967741935483,71.5074193548387" fill="none" stroke="#222" stroke-width="1.1" stroke-linejoin="round"/>
<polyline points="99.25645161290322,69.4816129032258 101.85645161290321,72.38161290322579" fill="none" stroke="#222" stroke-width="1.1" stroke-linejoin="round"/>
<polyline points="101.8532258064516,70.35580645161289 104.4532258064516,73.25580645161288" fill="none" stroke="#222" stroke-width="1.1" stroke-linejoin="round"/>
<polyline points="104.45,71.22999999999999 107.05,74.12999999999998" fill="none" stroke="#222" stroke-width="1.1" stroke-linejoin="round"/>
<polyline points="107.04677419354839,72.10419354838709 109.64677419354838,75.00419354838708" fill="none" stroke="#222" stroke-width="1.1" stroke-linejoin="round"/>
<polyline points="109.64354838709677,72.97838709677418 112.24354838709677,75.87838709677418" fill="none" stroke="#222" stroke-width="1.1" stroke-linejoin="round"/>
<polyline points="112.24032258064516,73.85258064516128 114.84032258064515,76.75258064516127" fill="none" stroke="#222" stroke-width="1.1" stroke-linejoin="round"/>
<polyline points="114.83709677419355,74.72677419354838 117.43709677419355,77.62677419354837" fill="none" stroke="#222" stroke-width="1.1" stroke-linejoin="round"/>
<polyline points="117.43387096774194,75.60096774193548 120.03387096774193,78.50096774193547" fill="none" stroke="#222" stroke-width="1.1" stroke-linejoin="round"/>
<polyline points="120.03064516129032,76.47516129032257 122.63064516129032,79.37516129032257" fill="none" stroke="#222" stroke-width="1.1" stroke-linejoin="round"/>
<polyline points="122.62741935483871,77.34935483870967 125.2274193548387,80.24935483870966" fill="none" stroke="#222" stroke-width="1.1" stroke-linejoin="round"/>
<polyline points="125.22419354838709,78.22354838709677 127.82419354838709,81.12354838709676" fill="none" stroke="#222" stroke-width="1.1" stroke-linejoin="round"/>
<polyline points="127.82096774193548,79.09774193548387 130.42096774193547,81.99774193548386" fill="none" stroke="#222" stroke-width="1.1" stroke-linejoin="round"/>
<polyline points="130.41774193548386,79.97193548387096 133.01774193548385,82.87193548387096" fill="none" stroke="#222" stroke-width="1.1" stroke-linejoin="round"/>
<polyline points="133.01451612903224,80.84612903225806 135.61451612903224,83.74612903225805" fill="none" stroke="#222" stroke-width="1.1" stroke-linejoin="round"/>
<polyline points="135.61129032258066,81.72032258064516 138.21129032258065,84.62032258064515" fill="none" stroke="#222" stroke-width="1.1" stroke-linejoin="round"/>
<polyline points="138.208064516129,82.59451612903226 140.808064516129,85.49451612903225" fill="none" stroke="#222" stroke-width="1.1" stroke-linejoin="round"/>
<polyline points="140.80483870967743,83.46870967741935 143.40483870967742,86.36870967741935" fill="none" stroke="#222" stroke-width="1.1" stroke-linejoin="round"/>
<polyline points="143.4016129032258,84.34290322580645 146.0016129032258,87.24290322580644" fill="none" stroke="#222" stroke-width="1.1" stroke-linejoin="round"/>
<polyline points="145.9983870967742,85.21709677419355 148.5983870967742,88.11709677419354" fill="none" stroke="#222" stroke-width="1.1" stroke-linejoin="round"/>
<polyline points="148.59516129032258,86.09129032258063 151.19516129032257,88.99129032258062" fill="none" stroke="#222" stroke-width="1.1" stroke-linejoin="round"/>
<polyline points="151.19193548387096,86.96548387096773 153.79193548387096,89.86548387096772" fill="none" stroke="#222" stroke-width="1.1" stroke-linejoin="round"/>
<polyline points="153.78870967741938,87.83967741935483 156.38870967741937,90.73967741935482" fill="none" stroke="#222" stroke-width="1.1" stroke-linejoin="round"/>
<polyline points="156.38548387096773,88.71387096774193 158.98548387096773,91.61387096774192" fill="none" stroke="#222" stroke-width="1.1" stroke-linejoin="round"/>
<polyline points="158.98225806451615,89.58806451612902 161.58225806451614,92.48806451612901" fill="none" stroke="#222" stroke-width="1.1" stroke-linejoin="round"/>
<polyline points="161.5790322580645,90.46225806451612 164.1790322580645,93.36225806451611" fill="none" stroke="#222" stroke-width="1.1" stroke-linejoin="round"/>
<polyline points="164.17580645161289,91.33645161290322 166.77580645161288,94.23645161290321" fill="none" stroke="#222" stroke-width="1.1" stroke-linejoin="round"/>
<polyline points="166.77258064516127,92.21064516129032 169.37258064516126,95.11064516129031" fill="none" stroke="#222" stroke-width="1.1" stroke-linejoin="round"/>
<polyline points="169.36935483870968,93.08483870967741 171.96935483870968,95.9848387096774" fill="none" stroke="#222" stroke-width="1.1" stroke-linejoin="round"/>
<polyline points="171.96612903225804,93.95903225806451 174.56612903225803,96.8590322580645" fill="none" stroke="#222" stroke-width="1.1" stroke-linejoin="round"/>
<polyline points="174.56290322580645,94.83322580645161 177.16290322580645,97.7332258064516" fill="none" stroke="#222" stroke-width="1.1" stroke-linejoin="round"/>
<polyline points="177.1596774193548,95.7074193548387 179.7596774193548,98.6074193548387" fill="none" stroke="#222" stroke-width="1.1" stroke-linejoin="round"/>
<polyline points="179.75645161290322,96.5816129032258 182.35645161290321,99.4816129032258" fill="none" stroke="#222" stroke-width="1.1" stroke-linejoin="round"/>
<polyline points="182.3532258064516,97.4558064516129 184.9532258064516,100.35580645161289" fill="none" stroke="#222" stroke-width="1.1" stroke-linejoin="round"/>
<polyline points="184.95,98.33 187.54999999999998,101.22999999999999" fill="none" stroke="#222" stroke-width="1.1" stroke-linejoin="round"/>
<polyline points="187.5467741935484,99.2041935483871 190.1467741935484,102.10419354838709" fill="none" stroke="#222" stroke-width="1.1" stroke-linejoin="round"/>
<polyline points="190.14354838709676,100.0783870967742 192.74354838709675,102.97838709677418" fill="none" stroke="#222" stroke-width="1.1" stroke-linejoin="round"/>
<polyline points="192.74032258064517,100.95258064516129 195.34032258064516,103.85258064516128" fill="none" stroke="#222" stroke-width="1.1" stroke-linejoin="round"/>
<polyline points="195.33709677419353,101.82677419354839 197.93709677419352,104.72677419354838" fill="none" stroke="#222" stroke-width="1.1" stroke-linejoin="round"/>
<polyline points="197.93387096774194,102.70096774193549 200.53387096774193,105.60096774193548" fill="none" stroke="#222" stroke-width="1.1" stroke-linejoin="round"/>
<polyline points="200.5306451612903,103.57516129032258 203.1306451612903,106.47516129032257" fill="none" stroke="#222" stroke-width="1.1" stroke-linejoin="round"/>
<polyline points="203.1274193548387,104.44935483870967 205.7274193548387,107.34935483870966" fill="none" stroke="#222" stroke-width="1.1" stroke-linejoin="round"/>
<polyline points="205.72419354838706,105.32354838709676 208.32419354838706,108.22354838709676" fill="none" stroke="#222" stroke-width="1.1" stroke-linejoin="round"/>
<polyline points="208.32096774193548,106.19774193548388 210.92096774193547,109.09774193548387" fill="none" stroke="#222" stroke-width="1.1" stroke-linejoin="round"/>
<polyline points="210.9177419354839,107.07193548387097 213.51774193548388,109.97193548387096" fill="none" stroke="#222" stroke-width="1.1" stroke-linejoin="round"/>
<polyline points="213.51451612903224,107.94612903225806 216.11451612903224,110.84612903225805" fill="none" stroke="#222" stroke-width="1.1" stroke-linejoin="round"/>
<polyline points="216.11129032258066,108.82032258064515 218.71129032258065,111.72032258064515" fill="none" stroke="#222" stroke-width="1.1" stroke-linejoin="round"/>
<polyline points="218.708064516129,109.69451612903225 221.308064516129,112.59451612903224" fill="none" stroke="#222" stroke-width="1.1" stroke-linejoin="round"/>
<polyline points="221.30483870967743,110.56870967741935 223.90483870967742,113.46870967741934" fill="none" stroke="#222" stroke-width="1.1" stroke-linejoin="round"/>
<polyline points="223.90161290322578,111.44290322580645 226.50161290322578,114.34290322580644" fill="none" stroke="#222" stroke-width="1.1" stroke-linejoin="round"/>
<polyline points="226.4983870967742,112.31709677419353 229.0983870967742,115.21709677419352" fill="none" stroke="#222" stroke-width="1.1" stroke-linejoin="round"/>
<polyline points="229.09516129032255,113.19129032258064 231.69516129032255,116.09129032258063" fill="none" stroke="#222" stroke-width="1.1" stroke-linejoin="round"/>
<polyline points="231.69193548387096,114.06548387096774 234.29193548387096,116.96548387096773" fill="none" stroke="#222" stroke-width="1.1" stroke-linejoin="round"/>
<polyline points="234.28870967741932,114.93967741935484 236.8887096774193,117.83967741935483" fill="none" stroke="#222" stroke-width="1.1" stroke-linejoin="round"/>
<polyline points="236.88548387096773,115.81387096774192 239.48548387096773,118.71387096774191" fill="none" stroke="#222" stroke-width="1.1" stroke-linejoin="round"/>
<polyline points="239.48225806451615,116.68806451612902 242.08225806451614,119.58806451612901" fill="none" stroke="#222" stroke-width="1.1" stroke-linejoin="round"/>
<polyline points="103.3,91.2 103.3,77.9 180.8,103.2 241.3,122.6" fill="none" stroke="#222" stroke-width="1.1" stroke-linejoin="round"/>
<polyline points="103.3,91.2 139.9,104.1" fill="none" stroke="#222" stroke-width="1.1" stroke-linejoin="round"/>
<polyline points="103.3,91.2 108.3,88.3 108.3,79.6 122.5,83.9 122.5,93.3" fill="none" stroke="#222" stroke-width="1.1" stroke-linejoin="round"/>
<polyline points="108.3,88.3 122.5,93.3 150.7,100.8" fill="none" stroke="#222" stroke-width="1.1" stroke-linejoin="round"/>
<path d="M140,99.6 L150.8,100.8 L165,102 Q174,104.5 177.9,108.3 L179.1,111.6" fill="none" stroke="#222" stroke-width="1.1"/>
<path d="M139.7,103.8 L146.7,104.3 L158.3,104.5 Q168,106.3 172.4,110 Q174.3,112 174.5,114 L174.5,131.8" fill="none" stroke="#222" stroke-width="1.1"/>
<polyline points="180.8,103.2 179.1,111.6 177.9,125 175.8,132.5" fill="none" stroke="#222" stroke-width="1.1" stroke-linejoin="round"/>
<polyline points="174.5,112.9 179.1,111.6" fill="none" stroke="#222" stroke-width="1.1" stroke-linejoin="round"/>
<polyline points="147.5,104.5 147.5,121.8 157.5,122.2 157.5,104.5" fill="none" stroke="#222" stroke-width="1.1" stroke-linejoin="round"/>
<polyline points="139.7,104.1 139.7,119.5" fill="none" stroke="#222" stroke-width="1.1" stroke-linejoin="round"/>
<polyline points="151.6,94.1 151.6,100.8" fill="none" stroke="#222" stroke-width="1.1" stroke-linejoin="round"/>
<polyline points="151.2,122.3 151.2,124.2" fill="none" stroke="#222" stroke-width="1.1" stroke-linejoin="round"/>
<polyline points="165,122.8 169,124.5" fill="none" stroke="#222" stroke-width="1.1" stroke-linejoin="round"/>
<polyline points="137.9,61.2 127,69.8 153.3,79 187.9,91.0" fill="none" stroke="#222" stroke-width="1.1" stroke-linejoin="round"/>
<polyline points="187.9,91.0 210,98.0 212.5,97 223.3,89.1 225.3,87 223.7,85 198.3,76.2" fill="none" stroke="#222" stroke-width="1.1" stroke-linejoin="round"/>
<polyline points="198.3,82.9 219.9,90" fill="none" stroke="#222" stroke-width="1.1" stroke-linejoin="round"/>
<polyline points="200.4,87.5 212.5,89.6 219.9,90" fill="none" stroke="#222" stroke-width="0.8" stroke-linejoin="round"/>
<polyline points="198.3,87 191.2,92" fill="none" stroke="#222" stroke-width="1.1" stroke-linejoin="round"/>
<path d="M137.9,61.2 Q140.5,59.6 146,59.8 L152.3,62.4" fill="none" stroke="#222" stroke-width="1.1"/>
<path d="M132.9,70.8 L140.5,65.2 Q143,63.6 146.3,63.9 L152.6,66.7" fill="none" stroke="#222" stroke-width="1.1"/>
<polyline points="138.6,60.8 140.2,65.3" fill="none" stroke="#222" stroke-width="0.8" stroke-linejoin="round"/>
<polyline points="146.2,59.8 146.8,64" fill="none" stroke="#222" stroke-width="0.8" stroke-linejoin="round"/>
<polyline points="147.4,64.2 147.4,66.5 152.8,69.2" fill="none" stroke="#222" stroke-width="0.8" stroke-linejoin="round"/>
</g>
</svg>
</body></html>
